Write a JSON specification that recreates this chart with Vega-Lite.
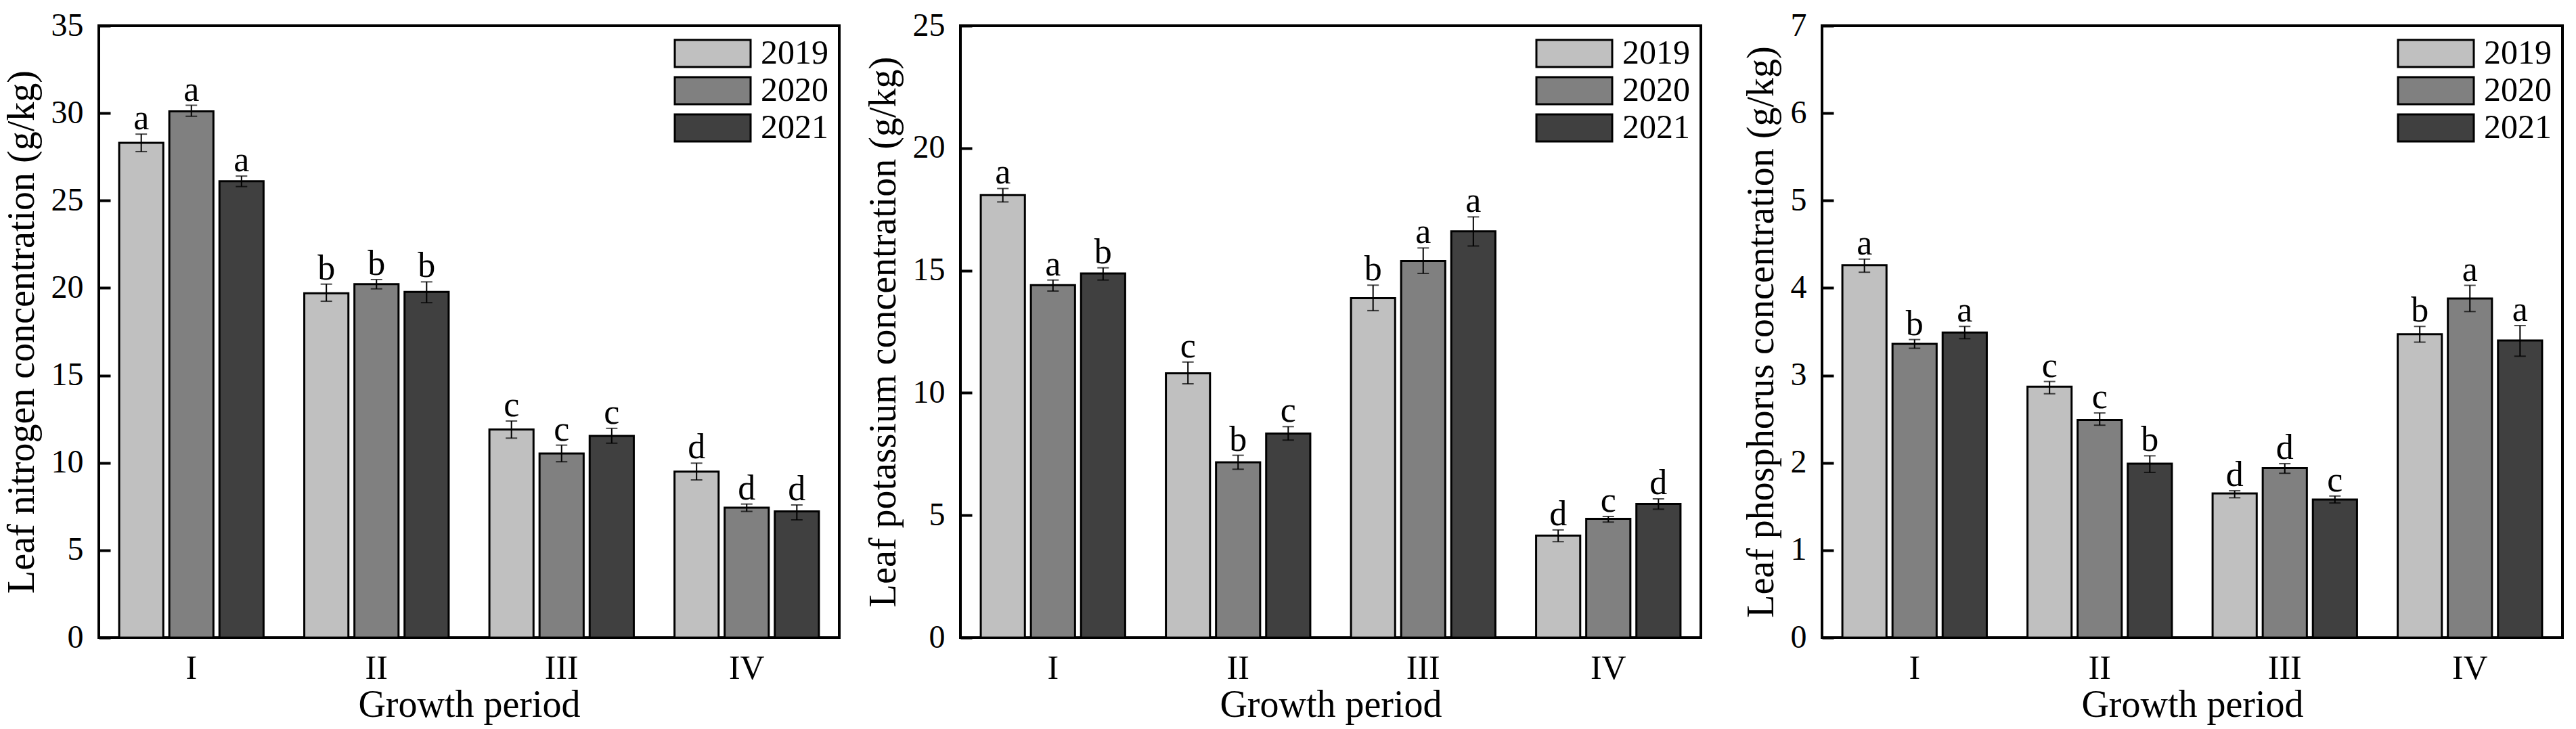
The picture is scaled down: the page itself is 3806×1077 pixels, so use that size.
{
  "$schema": "https://vega.github.io/schema/vega-lite/v6.json",
  "background": "white",
  "padding": {"left": 2, "top": 12, "right": 5, "bottom": 5},
  "bounds": "flush",
  "spacing": 179,
  "datasets": {
    "N": [
      {"period": "I", "year": "2019", "mean": 28.3, "lo": 27.8, "hi": 28.8, "letter": "a"},
      {"period": "I", "year": "2020", "mean": 30.1, "lo": 29.82, "hi": 30.45, "letter": "a"},
      {"period": "I", "year": "2021", "mean": 26.1, "lo": 25.8, "hi": 26.4, "letter": "a"},
      {"period": "II", "year": "2019", "mean": 19.7, "lo": 19.24, "hi": 20.22, "letter": "b"},
      {"period": "II", "year": "2020", "mean": 20.22, "lo": 19.95, "hi": 20.48, "letter": "b"},
      {"period": "II", "year": "2021", "mean": 19.77, "lo": 19.16, "hi": 20.35, "letter": "b"},
      {"period": "III", "year": "2019", "mean": 11.91, "lo": 11.41, "hi": 12.39, "letter": "c"},
      {"period": "III", "year": "2020", "mean": 10.53, "lo": 10.06, "hi": 11.01, "letter": "c"},
      {"period": "III", "year": "2021", "mean": 11.54, "lo": 11.12, "hi": 11.97, "letter": "c"},
      {"period": "IV", "year": "2019", "mean": 9.5, "lo": 9.02, "hi": 9.98, "letter": "d"},
      {"period": "IV", "year": "2020", "mean": 7.43, "lo": 7.22, "hi": 7.64, "letter": "d"},
      {"period": "IV", "year": "2021", "mean": 7.22, "lo": 6.74, "hi": 7.59, "letter": "d"}
    ],
    "K": [
      {"period": "I", "year": "2019", "mean": 18.08, "lo": 17.8, "hi": 18.35, "letter": "a"},
      {"period": "I", "year": "2020", "mean": 14.4, "lo": 14.16, "hi": 14.61, "letter": "a"},
      {"period": "I", "year": "2021", "mean": 14.88, "lo": 14.61, "hi": 15.11, "letter": "b"},
      {"period": "II", "year": "2019", "mean": 10.8, "lo": 10.37, "hi": 11.26, "letter": "c"},
      {"period": "II", "year": "2020", "mean": 7.16, "lo": 6.88, "hi": 7.45, "letter": "b"},
      {"period": "II", "year": "2021", "mean": 8.34, "lo": 8.07, "hi": 8.62, "letter": "c"},
      {"period": "III", "year": "2019", "mean": 13.87, "lo": 13.36, "hi": 14.4, "letter": "b"},
      {"period": "III", "year": "2020", "mean": 15.39, "lo": 14.88, "hi": 15.92, "letter": "a"},
      {"period": "III", "year": "2021", "mean": 16.6, "lo": 16.0, "hi": 17.19, "letter": "a"},
      {"period": "IV", "year": "2019", "mean": 4.17, "lo": 3.92, "hi": 4.4, "letter": "d"},
      {"period": "IV", "year": "2020", "mean": 4.85, "lo": 4.72, "hi": 4.95, "letter": "c"},
      {"period": "IV", "year": "2021", "mean": 5.46, "lo": 5.25, "hi": 5.67, "letter": "d"}
    ],
    "P": [
      {"period": "I", "year": "2019", "mean": 4.26, "lo": 4.18, "hi": 4.33, "letter": "a"},
      {"period": "I", "year": "2020", "mean": 3.36, "lo": 3.31, "hi": 3.41, "letter": "b"},
      {"period": "I", "year": "2021", "mean": 3.49, "lo": 3.42, "hi": 3.56, "letter": "a"},
      {"period": "II", "year": "2019", "mean": 2.87, "lo": 2.79, "hi": 2.93, "letter": "c"},
      {"period": "II", "year": "2020", "mean": 2.49, "lo": 2.43, "hi": 2.57, "letter": "c"},
      {"period": "II", "year": "2021", "mean": 1.99, "lo": 1.89, "hi": 2.08, "letter": "b"},
      {"period": "III", "year": "2019", "mean": 1.65, "lo": 1.6, "hi": 1.68, "letter": "d"},
      {"period": "III", "year": "2020", "mean": 1.94, "lo": 1.88, "hi": 1.99, "letter": "d"},
      {"period": "III", "year": "2021", "mean": 1.58, "lo": 1.54, "hi": 1.62, "letter": "c"},
      {"period": "IV", "year": "2019", "mean": 3.47, "lo": 3.38, "hi": 3.56, "letter": "b"},
      {"period": "IV", "year": "2020", "mean": 3.88, "lo": 3.73, "hi": 4.03, "letter": "a"},
      {"period": "IV", "year": "2021", "mean": 3.4, "lo": 3.22, "hi": 3.57, "letter": "a"}
    ]
  },
  "resolve": {"scale": {"color": "independent"}, "legend": {"color": "independent"}},
  "hconcat": [
    {
      "data": {"name": "N"},
      "width": 1094, "height": 904,
      "encoding": {
        "x": {"field": "period", "type": "nominal", "sort": ["I", "II", "III", "IV"], "scale": {"paddingInner": 0.22, "paddingOuter": 0.11}, "axis": {"title": "Growth period"}},
        "xOffset": {"field": "year", "type": "nominal", "scale": {"paddingInner": 0.12}}
      },
      "layer": [
        {"mark": {"type": "bar", "stroke": "black", "strokeWidth": 3},
         "encoding": {
           "y": {"field": "mean", "type": "quantitative", "title": "Leaf nitrogen concentration (g/kg)", "scale": {"domain": [0, 35], "nice": false}, "axis": {"values": [0, 5, 10, 15, 20, 25, 30, 35], "format": "d"}},
           "color": {"field": "year", "type": "nominal", "scale": {"domain": ["2019", "2020", "2021"], "range": ["#c0c0c0", "#808080", "#404040"]}, "legend": {"title": null}}
         }},
        {"mark": {"type": "rule", "color": "black", "strokeWidth": 2},
         "encoding": {"y": {"field": "lo", "type": "quantitative", "title": "Leaf nitrogen concentration (g/kg)"}, "y2": {"field": "hi"}}},
        {"mark": {"type": "tick", "color": "black", "thickness": 2, "size": 17},
         "encoding": {"y": {"field": "lo", "type": "quantitative", "title": "Leaf nitrogen concentration (g/kg)"}}},
        {"mark": {"type": "tick", "color": "black", "thickness": 2, "size": 17},
         "encoding": {"y": {"field": "hi", "type": "quantitative", "title": "Leaf nitrogen concentration (g/kg)"}}},
        {"mark": {"type": "text", "baseline": "alphabetic", "dy": -7, "fontSize": 52, "font": "Liberation Serif", "color": "black"},
         "encoding": {"y": {"field": "hi", "type": "quantitative", "title": "Leaf nitrogen concentration (g/kg)"}, "text": {"field": "letter"}}}
      ]
    },
    {
      "data": {"name": "K"},
      "width": 1094, "height": 904,
      "encoding": {
        "x": {"field": "period", "type": "nominal", "sort": ["I", "II", "III", "IV"], "scale": {"paddingInner": 0.22, "paddingOuter": 0.11}, "axis": {"title": "Growth period"}},
        "xOffset": {"field": "year", "type": "nominal", "scale": {"paddingInner": 0.12}}
      },
      "layer": [
        {"mark": {"type": "bar", "stroke": "black", "strokeWidth": 3},
         "encoding": {
           "y": {"field": "mean", "type": "quantitative", "title": "Leaf potassium concentration (g/kg)", "scale": {"domain": [0, 25], "nice": false}, "axis": {"values": [0, 5, 10, 15, 20, 25], "format": "d"}},
           "color": {"field": "year", "type": "nominal", "scale": {"domain": ["2019", "2020", "2021"], "range": ["#c0c0c0", "#808080", "#404040"]}, "legend": {"title": null}}
         }},
        {"mark": {"type": "rule", "color": "black", "strokeWidth": 2},
         "encoding": {"y": {"field": "lo", "type": "quantitative", "title": "Leaf potassium concentration (g/kg)"}, "y2": {"field": "hi"}}},
        {"mark": {"type": "tick", "color": "black", "thickness": 2, "size": 17},
         "encoding": {"y": {"field": "lo", "type": "quantitative", "title": "Leaf potassium concentration (g/kg)"}}},
        {"mark": {"type": "tick", "color": "black", "thickness": 2, "size": 17},
         "encoding": {"y": {"field": "hi", "type": "quantitative", "title": "Leaf potassium concentration (g/kg)"}}},
        {"mark": {"type": "text", "baseline": "alphabetic", "dy": -7, "fontSize": 52, "font": "Liberation Serif", "color": "black"},
         "encoding": {"y": {"field": "hi", "type": "quantitative", "title": "Leaf potassium concentration (g/kg)"}, "text": {"field": "letter"}}}
      ]
    },
    {
      "data": {"name": "P"},
      "width": 1094, "height": 904,
      "encoding": {
        "x": {"field": "period", "type": "nominal", "sort": ["I", "II", "III", "IV"], "scale": {"paddingInner": 0.22, "paddingOuter": 0.11}, "axis": {"title": "Growth period"}},
        "xOffset": {"field": "year", "type": "nominal", "scale": {"paddingInner": 0.12}}
      },
      "layer": [
        {"mark": {"type": "bar", "stroke": "black", "strokeWidth": 3},
         "encoding": {
           "y": {"field": "mean", "type": "quantitative", "title": "Leaf phosphorus concentration (g/kg)", "scale": {"domain": [0, 7], "nice": false}, "axis": {"values": [0, 1, 2, 3, 4, 5, 6, 7], "format": "d"}},
           "color": {"field": "year", "type": "nominal", "scale": {"domain": ["2019", "2020", "2021"], "range": ["#c0c0c0", "#808080", "#404040"]}, "legend": {"title": null}}
         }},
        {"mark": {"type": "rule", "color": "black", "strokeWidth": 2},
         "encoding": {"y": {"field": "lo", "type": "quantitative", "title": "Leaf phosphorus concentration (g/kg)"}, "y2": {"field": "hi"}}},
        {"mark": {"type": "tick", "color": "black", "thickness": 2, "size": 17},
         "encoding": {"y": {"field": "lo", "type": "quantitative", "title": "Leaf phosphorus concentration (g/kg)"}}},
        {"mark": {"type": "tick", "color": "black", "thickness": 2, "size": 17},
         "encoding": {"y": {"field": "hi", "type": "quantitative", "title": "Leaf phosphorus concentration (g/kg)"}}},
        {"mark": {"type": "text", "baseline": "alphabetic", "dy": -7, "fontSize": 52, "font": "Liberation Serif", "color": "black"},
         "encoding": {"y": {"field": "hi", "type": "quantitative", "title": "Leaf phosphorus concentration (g/kg)"}, "text": {"field": "letter"}}}
      ]
    }
  ],
  "config": {
    "font": "Liberation Serif",
    "view": {"stroke": "black", "strokeWidth": 4},
    "axis": {"labelFont": "Liberation Serif", "titleFont": "Liberation Serif", "labelColor": "black", "titleColor": "black", "titleFontWeight": "normal", "grid": false, "domain": false},
    "axisY": {"tickSize": -17, "tickWidth": 4, "tickColor": "black", "labelFontSize": 48, "titleFontSize": 56, "labelPadding": 40, "titlePadding": 14},
    "axisX": {"ticks": false, "labelFontSize": 50, "titleFontSize": 56, "labelPadding": 20, "titlePadding": 2, "labelAngle": 0},
    "legend": {"orient": "top-right", "offset": 16, "symbolType": "M-1,-1H4.6V1H-1Z", "symbolSize": 1600, "symbolStrokeColor": "black", "symbolStrokeWidth": 3, "symbolOpacity": 1, "labelFontSize": 50, "labelFont": "Liberation Serif", "labelColor": "black", "labelOffset": 82, "rowPadding": 3, "padding": 0}
  }
}
